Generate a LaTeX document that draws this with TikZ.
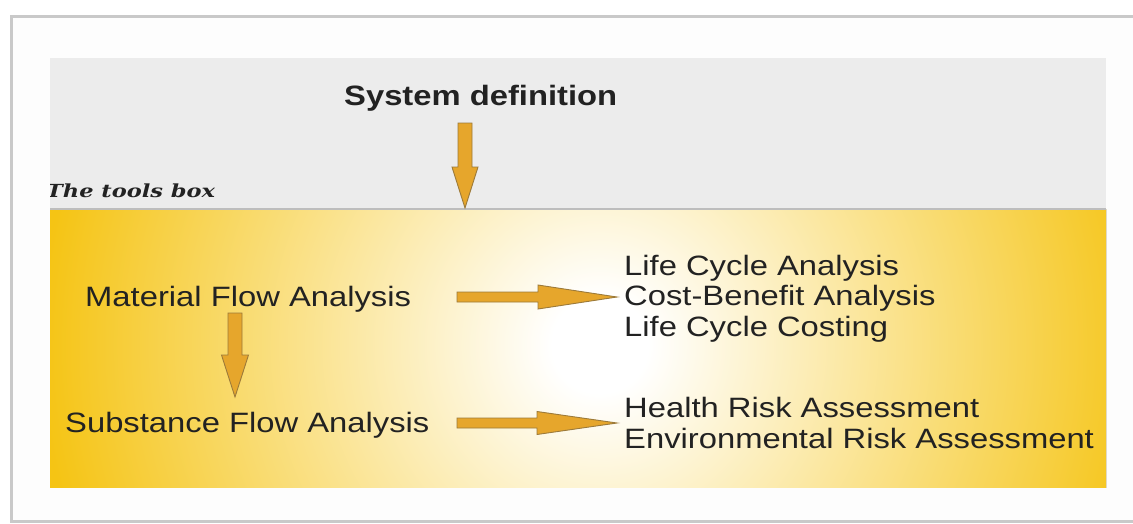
\documentclass[tikz,border=0pt]{standalone}
\usepackage{fontspec}
\usetikzlibrary{calc}
\newfontfamily\labelfont[FakeStretch=1.17]{Liberation Sans}
\newfontfamily\tagfont[FakeStretch=1.25]{DejaVu Serif}

\definecolor{framegray}{HTML}{C9C9C9}
\definecolor{paper}{HTML}{FDFDFD}
\definecolor{bandgray}{HTML}{ECECEC}
\definecolor{seamgray}{HTML}{BDBDBD}
\definecolor{toolgold}{HTML}{F5C414}
\definecolor{arrowfill}{HTML}{E6A62C}
\definecolor{arrowline}{HTML}{9C7A3A}
\definecolor{ink}{HTML}{222222}

% white core fading to gold; gold is reached at 17.5bp of the 25bp radius
\pgfdeclareradialshading{toolglow}{\pgfpoint{0bp}{0bp}}{%
  color(0bp)=(white); color(1.5bp)=(white);
  color(17.5bp)=(toolgold); color(50bp)=(toolgold)}

\tikzset{
  label text/.style={inner sep=0pt, text=ink, anchor=base west,
    font=\labelfont\fontsize{28}{30.5}\selectfont, align=left},
  title text/.style={label text, font=\labelfont\bfseries\fontsize{28}{30}\selectfont},
  tag text/.style={inner sep=0pt, text=ink, anchor=base west,
    font=\tagfont\bfseries\itshape\fontsize{18}{20}\selectfont},
  blockarrow/.style={fill=arrowfill, draw=arrowline, line width=0.9pt, line join=miter},
}

% block arrow from #1 to #2: shaft half width #3, head half width #4, head length #5 (pt)
\newcommand\blockarrow[5]{%
  \path[blockarrow] let \p1=(#1), \p2=(#2),
      \n1={atan2(\y2-\y1,\x2-\x1)}, \n2={veclen(\x2-\x1,\y2-\y1)} in
    [shift={(\p1)}, rotate=\n1]
    (0pt,#3pt) -- ({(\n2-#5)*1pt},#3pt) -- ({(\n2-#5)*1pt},#4pt)
    -- ({\n2*1pt},0pt) -- ({(\n2-#5)*1pt},-#4pt) -- ({(\n2-#5)*1pt},-#3pt)
    -- (0pt,-#3pt) -- cycle;
}

\begin{document}
\begin{tikzpicture}[x=1pt, y=-1pt]
  \useasboundingbox (0,0) rectangle (1133,523);
  \fill[white] (0,0) rectangle (1133,523);

  % outer panel
  \begin{scope}
    \clip (0,0) rectangle (1133,523);
    \fill[paper] (11,16) rectangle (1200,521);
    \draw[framegray, line width=3pt] (11,16) rectangle (1200,521);
  \end{scope}

  % grey system band and golden tools box
  \fill[bandgray] (50,58) rectangle (1106,209);
  \begin{scope}
    \clip (50,209) rectangle (1106,487);
    \fill[shading=toolglow] (600,345) circle (800);
  \end{scope}
  \draw[seamgray, line width=1.5pt] (50,209) -- (1106,209);

  % texts
  \node[title text] (sysdef) at (344,105) {System definition};
  \begin{scope}
    \clip (50,170) rectangle (400,205);
    \node[tag text] (tools) at (46,197) {The tools box};
  \end{scope}
  \node[label text] (mfa) at (85,306) {Material Flow Analysis};
  \node[label text] (sfa) at (65,432) {Substance Flow Analysis};
  \node[label text] (econ) at (624,336) {Life Cycle Analysis\\Cost-Benefit Analysis\\Life Cycle Costing};
  \node[label text] (risk) at (624,448) {Health Risk Assessment\\Environmental Risk Assessment};

  % connector ends
  \coordinate (sysdefOut) at (465,123);
  \coordinate (toolsIn) at (465,208);
  \coordinate (mfaDown) at (235,313);
  \coordinate (sfaUp) at (235,397);
  \coordinate (mfaOut) at (457,297);
  \coordinate (econIn) at (617,297);
  \coordinate (sfaOut) at (457,423);
  \coordinate (riskIn) at (617,423);

  \blockarrow{sysdefOut}{toolsIn}{7}{13}{41}
  \blockarrow{mfaDown}{sfaUp}{7}{13.5}{42}
  \blockarrow{mfaOut}{econIn}{5}{12}{79}
  \blockarrow{sfaOut}{riskIn}{5}{11.5}{80}
\end{tikzpicture}
\end{document}
